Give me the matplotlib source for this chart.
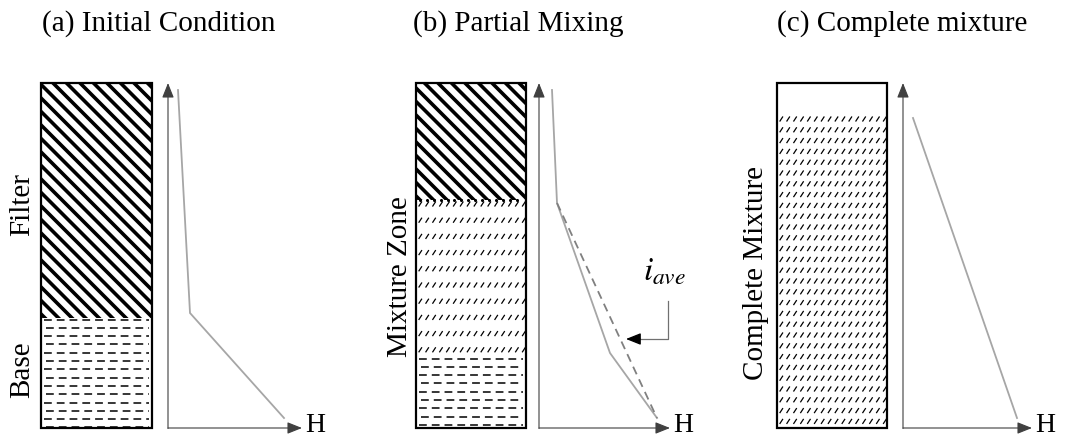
import numpy as np
import matplotlib.pyplot as plt
from matplotlib.patches import Rectangle

plt.rcParams['font.family'] = ['Liberation Serif', 'DejaVu Serif']
plt.rcParams['mathtext.fontset'] = 'stix'
plt.rcParams['lines.scale_dashes'] = False

# panel titles and side labels
titles = ['(a) Initial Condition', '(b) Partial Mixing', '(c) Complete mixture']
title_x = [42, 413, 777]

# soil column outline (pixel-like units, y grows downward)
col_left = [41, 416, 777]
col_right = [152, 526, 887]
col_top = 83
col_bottom = 428

# layers: (top, bottom, kind)
layers = [
    [(83, 318, 'filter'), (318, 428, 'base')],
    [(83, 200, 'filter'), (200, 357, 'mix'), (357, 428, 'base')],
    [(115, 428, 'mix')],
]
mix_row_gap = [None, 16.2, 10.8]

side_labels = [
    [('Filter', 22, 205), ('Base', 22, 370)],
    [('Mixture Zone', 400, 277)],
    [('Complete Mixture', 756, 273)],
]

# head profile axes
axis_x = [168, 539, 903]
axis_end = [302, 670, 1032]

# head profiles
head_x = [[178, 190, 284], [552, 557, 610, 657], [913, 1017]]
head_y = [[90, 313, 418], [90, 203, 353, 418], [118, 418]]
avg_x = [557, 657]
avg_y = [203, 418]

fig = plt.figure(figsize=(10.68, 4.38), dpi=100)
ax = fig.add_axes([0, 0, 1, 1])
ax.set_xlim(0, 1068)
ax.set_ylim(438, 0)
ax.axis('off')

arrow_style = '-|>,head_length=0.75,head_width=0.3'


def clip_box(x0, x1, y0, y1):
    r = Rectangle((x0, y0), x1 - x0, y1 - y0, fill=False, lw=0)
    ax.add_patch(r)
    return r


def draw_filter(x0, x1, y0, y1):
    box = clip_box(x0, x1, y0, y1)
    h = y1 - y0
    for c in np.arange(x0 - h - 6, x1 + 6, 13.5):
        ln, = ax.plot([c, c + h + 20], [y0 - 10, y1 + 10], color='black', lw=2.6,
                      solid_capstyle='butt')
        ln.set_clip_path(box)


def draw_base(x0, x1, y0, y1):
    for k, y in enumerate(np.arange(y0 + 1.5, y1, 8.3)):
        off = 2 if k % 2 else 0
        ax.plot([x0 + 3 + off, x1 - 3], [y, y], color='black', lw=1.1,
                linestyle=(0, (5.6, 3.6)))


def draw_mix(x0, x1, y0, y1, gap, dots=False):
    rows = np.arange(y0 + 4, y1 - 2, gap)
    for y in rows:
        for x in np.arange(x0 + 3, x1 - 3, 6.9):
            ax.plot([x, x + 2.6], [y + 2.0, y - 2.0], color='black', lw=0.9)
    if dots:
        xs = np.arange(x0 + 4, x1 - 3, 6.9)
        ax.plot(xs, np.full_like(xs, y0), ls='none', marker='o', ms=1.2, color='black')


for i in range(3):
    x0, x1 = col_left[i], col_right[i]
    for top, bot, kind in layers[i]:
        if kind == 'filter':
            draw_filter(x0, x1, top, bot)
        elif kind == 'base':
            draw_base(x0, x1, top, bot)
        else:
            draw_mix(x0, x1, top, bot, mix_row_gap[i], dots=(i == 1))
    ax.add_patch(Rectangle((x0, col_top), x1 - x0, col_bottom - col_top,
                           fill=False, edgecolor='black', lw=1.6))

    ax.text(title_x[i], 24, titles[i], fontsize=21, ha='left', va='center')
    for txt, tx, ty in side_labels[i]:
        ax.text(tx, ty, txt, fontsize=21, rotation=90, ha='center', va='center')

    # axes with arrows
    ax.annotate('', xy=(axis_x[i], col_top), xytext=(axis_x[i], col_bottom + 0.5),
                arrowprops=dict(arrowstyle=arrow_style, color='#404040', lw=0.8,
                                mutation_scale=12, shrinkA=0, shrinkB=0))
    ax.annotate('', xy=(axis_end[i], col_bottom), xytext=(axis_x[i], col_bottom),
                arrowprops=dict(arrowstyle=arrow_style, color='#404040', lw=0.8,
                                mutation_scale=12, shrinkA=0, shrinkB=0))
    ax.text(axis_end[i] + 3, 432, 'H', fontsize=20, ha='left', va='baseline')

    ax.plot(head_x[i], head_y[i], color='#a6a6a6', lw=1.3, solid_joinstyle='miter')

# average gradient and its callout
ax.plot(avg_x, avg_y, color='#808080', lw=1.3, linestyle=(0, (6, 4)))
ax.plot([668, 668, 638], [301, 339, 339], color='#707070', lw=0.9)
ax.annotate('', xy=(626, 339), xytext=(640, 339),
            arrowprops=dict(arrowstyle=arrow_style, color='black', lw=0.9,
                            mutation_scale=12, shrinkA=0, shrinkB=0))
ax.text(664, 271, r'$i_{ave}$', fontsize=24, ha='center', va='center')

fig.savefig('out.png', dpi=100)
